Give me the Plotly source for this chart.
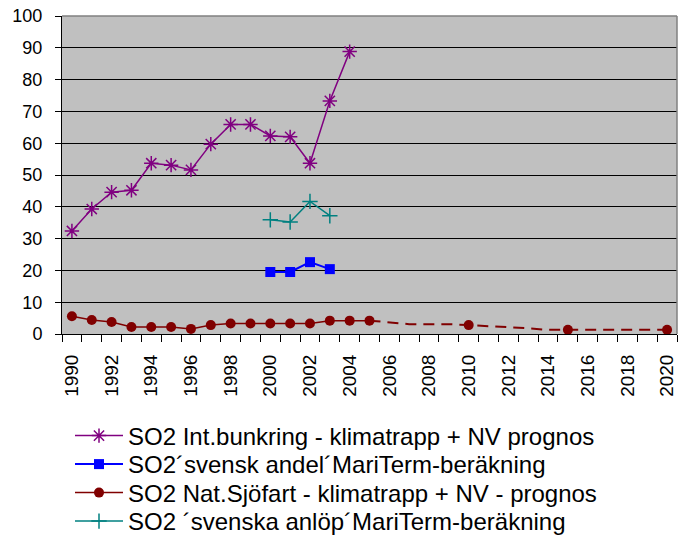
import plotly.graph_objects as go

# ---- data ----
tick_years = list(range(1990, 2021, 2))
tick_labels = [str(y) for y in tick_years]

bunk_years = list(range(1990, 2005))
bunk_vals = [32.4, 39.3, 44.6, 45.2, 53.7, 53.1, 51.6, 59.7, 65.9, 65.9, 62.3, 62.0, 53.7, 73.3, 88.8]

andel_years = [2000, 2001, 2002, 2003]
andel_vals = [19.5, 19.5, 22.6, 20.4]

anlop_years = [2000, 2001, 2002, 2003]
anlop_vals = [35.9, 35.2, 41.7, 37.2]

nat_years = list(range(1990, 2006))
nat_vals = [5.6, 4.4, 3.8, 2.2, 2.2, 2.2, 1.6, 2.8, 3.3, 3.3, 3.3, 3.3, 3.3, 4.2, 4.2, 4.2]

prog_years = list(range(2005, 2021))
prog_vals = [4.2, 3.6, 3.1, 3.1, 3.1, 2.8, 2.5, 2.3, 1.8, 1.3, 1.3, 1.3, 1.3, 1.3, 1.3, 1.3]
prog_marked = [2010, 2015, 2020]

names = [
    "SO2 Int.bunkring - klimatrapp + NV prognos",
    "SO2\u00b4svensk andel\u00b4MariTerm-ber\u00e4kning",
    "SO2 Nat.Sj\u00f6fart - klimatrapp + NV - prognos",
    "SO2 \u00b4svenska anl\u00f6p\u00b4MariTerm-ber\u00e4kning",
]

PURPLE = "#800080"
BLUE = "#0000FF"
RED = "#800000"
TEAL = "#008080"
FONT = "Liberation Sans, Arial, sans-serif"

# figure geometry (px)
W, H = 678, 535
L, R, T, B = 62, 1, 16, 201
plot_w = W - L - R
plot_h = H - T - B
legend_left_px = 70
legend_rows_px = [436, 464.5, 493, 521.5]  # pixel centers of legend rows
legend_x = (legend_left_px - L) / plot_w
legend_y = [((H - B) - yp) / plot_h for yp in legend_rows_px]

fig = go.Figure()

fig.add_trace(go.Scatter(
    x=bunk_years, y=bunk_vals, name=names[0], mode="lines+markers", legend="legend",
    line=dict(color=PURPLE, width=1.5),
    marker=dict(symbol="asterisk-open", size=12, color=PURPLE, line=dict(color=PURPLE, width=1.5)),
))
fig.add_trace(go.Scatter(
    x=andel_years, y=andel_vals, name=names[1], mode="lines+markers", legend="legend2",
    line=dict(color=BLUE, width=2),
    marker=dict(symbol="square", size=10, color=BLUE),
))
fig.add_trace(go.Scatter(
    x=nat_years, y=nat_vals, name=names[2], mode="lines+markers", legend="legend3",
    line=dict(color=RED, width=1.5),
    marker=dict(symbol="circle", size=10, color=RED),
))
fig.add_trace(go.Scatter(
    x=anlop_years, y=anlop_vals, name=names[3], mode="lines+markers", legend="legend4",
    line=dict(color=TEAL, width=1.5),
    marker=dict(symbol="cross-thin-open", size=11, color=TEAL, line=dict(color=TEAL, width=1.5)),
))
# prognosis (dashed) part of the national series
fig.add_trace(go.Scatter(
    x=prog_years, y=prog_vals, mode="lines", showlegend=False, hoverinfo="skip",
    line=dict(color=RED, width=2, dash="11px,7px"),
))
mk_x = [y for y in prog_years if y in prog_marked]
mk_y = [v for y, v in zip(prog_years, prog_vals) if y in prog_marked]
fig.add_trace(go.Scatter(
    x=mk_x, y=mk_y, mode="markers", showlegend=False,
    marker=dict(symbol="circle", size=10, color=RED),
))

def leg(yv):
    return dict(
        x=legend_x, y=yv, xanchor="left", yanchor="middle",
        font=dict(family=FONT, size=24, color="black"),
        itemwidth=48, bgcolor="rgba(0,0,0,0)", borderwidth=0,
    )

fig.update_layout(
    width=W, height=H,
    margin=dict(l=L, r=R, t=T, b=B, autoexpand=False),
    paper_bgcolor="white",
    plot_bgcolor="#C0C0C0",
    font=dict(family=FONT, color="black", size=18),
    showlegend=True,
    legend=leg(legend_y[0]),
    legend2=leg(legend_y[1]),
    legend3=leg(legend_y[2]),
    legend4=leg(legend_y[3]),
    xaxis=dict(
        range=[1989.5, 2020.5], automargin=False,
        tickmode="array", tickvals=tick_years, ticktext=tick_labels,
        tickangle=-90, tickfont=dict(family=FONT, size=19, color="black"),
        ticks="outside", ticklen=12, tickcolor="rgba(0,0,0,0)",
        showgrid=False, zeroline=False,
        showline=True, linecolor="black", linewidth=1,
        minor=dict(tick0=1989.5, dtick=1, ticks="outside", ticklen=7, tickcolor="black", showgrid=False),
    ),
    yaxis=dict(
        range=[0, 100], dtick=10, tick0=0, automargin=False,
        ticks="outside", ticklen=6, tickcolor="black",
        tickfont=dict(family=FONT, size=18, color="black"),
        ticklabelstandoff=9,
        showgrid=True, gridcolor="black", gridwidth=1,
        zeroline=False,
        showline=True, linecolor="black", linewidth=1,
    ),
    shapes=[
        dict(type="line", xref="paper", yref="paper", x0=0, x1=1, y0=1, y1=1,
             line=dict(color="#808080", width=1.5), layer="above"),
        dict(type="line", xref="paper", yref="paper", x0=1, x1=1, y0=0, y1=1,
             line=dict(color="#808080", width=1.5), layer="above"),
    ],
)

# remove the browser's default 8px body margin so the figure fills the window
fig.write_html(
    "out.html",
    config={"displayModeBar": False},
    post_script="document.body.style.margin='0';document.body.style.overflow='hidden';",
)
